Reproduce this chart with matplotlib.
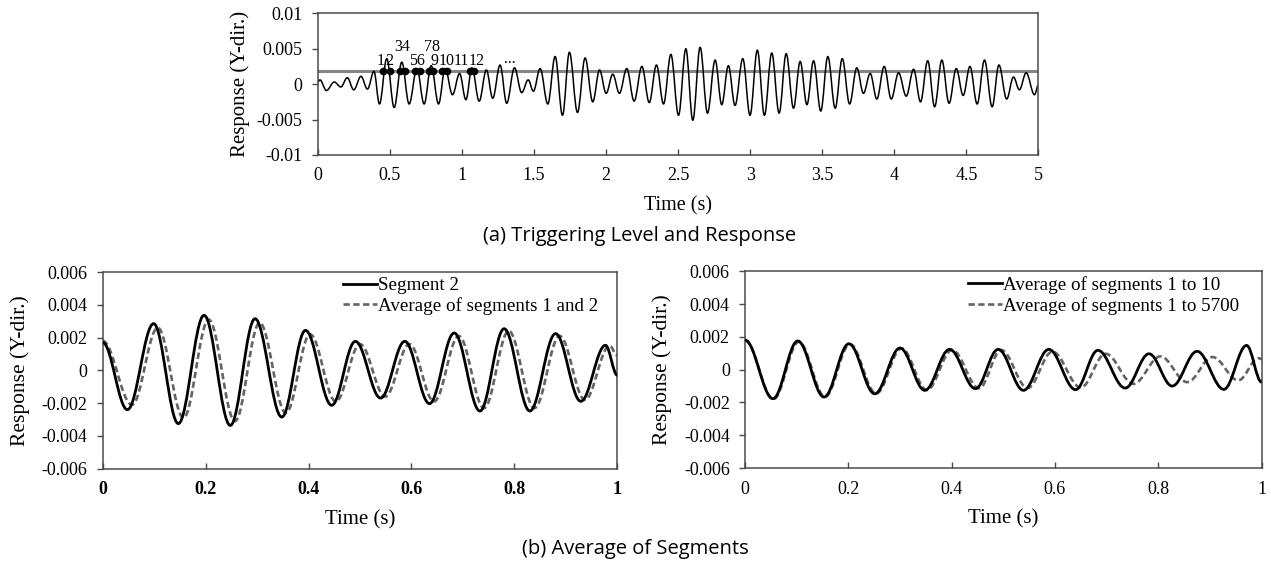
import matplotlib
matplotlib.use('Agg')
import matplotlib.pyplot as plt
from matplotlib.path import Path
from matplotlib.patches import PathPatch
from matplotlib.lines import Line2D

# ---- data (peaks / troughs of each trace) ----
# (a) full response record
resp_t = [0.0, 0.015, 0.06, 0.115, 0.16, 0.205, 0.25, 0.30, 0.345, 0.39,
          0.428, 0.479, 0.530, 0.583, 0.634, 0.688, 0.738, 0.787, 0.838, 0.884,
          0.935, 0.984, 1.028, 1.07, 1.12, 1.17, 1.214, 1.265, 1.311, 1.365,
          1.415, 1.46, 1.496, 1.543, 1.596, 1.647, 1.698, 1.746, 1.802, 1.855,
          1.908, 1.955, 2.001, 2.047, 2.093, 2.144, 2.195, 2.249, 2.30, 2.35,
          2.399, 2.45, 2.503, 2.554, 2.602, 2.653, 2.704, 2.757, 2.803, 2.849,
          2.895, 2.949, 2.999, 3.05, 3.099, 3.15, 3.201, 3.25, 3.301, 3.347,
          3.394, 3.44, 3.49, 3.539, 3.59, 3.639, 3.69, 3.74, 3.786, 3.833,
          3.879, 3.93, 3.979, 4.03, 4.083, 4.134, 4.182, 4.232, 4.28, 4.33,
          4.38, 4.43, 4.478, 4.525, 4.575, 4.626, 4.679, 4.726, 4.78, 4.827,
          4.868, 4.915, 4.973, 5.0]
resp_v = [0.0003, 0.0006, -0.0009, 0.0003, -0.0004, 0.0009, -0.0008, 0.0011, -0.0007, 0.0018,
          -0.0028, 0.0036, -0.0033, 0.0031, -0.0028, 0.0022, -0.0028, 0.0026, -0.0028, 0.0022,
          -0.0015, 0.0015, -0.0022, 0.0023, -0.0024, 0.0020, -0.0020, 0.0027, -0.0027, 0.0023,
          -0.0012, 0.0006, -0.0010, 0.0022, -0.0028, 0.0039, -0.0044, 0.0045, -0.0040, 0.0037,
          -0.0025, 0.0020, -0.0013, 0.0014, -0.0013, 0.0022, -0.0024, 0.0025, -0.0026, 0.0027,
          -0.0028, 0.0042, -0.0044, 0.0050, -0.0051, 0.0052, -0.0041, 0.0034, -0.0029, 0.0026,
          -0.0030, 0.0036, -0.0044, 0.0048, -0.0044, 0.0044, -0.0041, 0.0043, -0.0034, 0.0032,
          -0.0029, 0.0033, -0.0038, 0.0039, -0.0034, 0.0036, -0.0028, 0.0023, -0.0013, 0.0015,
          -0.0021, 0.0025, -0.0021, 0.0016, -0.0017, 0.0021, -0.0025, 0.0033, -0.0032, 0.0034,
          -0.0027, 0.0022, -0.0016, 0.0025, -0.0028, 0.0034, -0.0032, 0.0027, -0.0021, 0.0010,
          -0.0008, 0.0016, -0.0015, -0.0001]
trigger_level = 0.0018
cross_t = [0.456, 0.502, 0.572, 0.606, 0.676, 0.706, 0.769, 0.803, 0.861, 0.900, 1.054, 1.086]
ann_text = ['1', '2', '34', '56', '78', '9', '10', '11', '12', '...']
ann_t = [0.433, 0.497, 0.583, 0.688, 0.796, 0.812, 0.891, 0.998, 1.103, 1.33]
ann_v = [0.0033, 0.0033, 0.0053, 0.0033, 0.0053, 0.0033, 0.0033, 0.0033, 0.0033, 0.0036]
top_xticks = [0, 0.5, 1, 1.5, 2, 2.5, 3, 3.5, 4, 4.5, 5]
top_xlabels = ['0', '0.5', '1', '1.5', '2', '2.5', '3', '3.5', '4', '4.5', '5']
top_yticks = [-0.01, -0.005, 0, 0.005, 0.01]
top_ylabels = ['-0.01', '-0.005', '0', '0.005', '0.01']

# (b) left: segment 2 vs average of segments 1 and 2
seg2_t = [0, 0.048, 0.099, 0.147, 0.197, 0.248, 0.296, 0.348, 0.394, 0.445, 0.491,
          0.540, 0.587, 0.635, 0.683, 0.733, 0.780, 0.830, 0.880, 0.929, 0.977, 1.0]
seg2_v = [0.0017, -0.0024, 0.00285, -0.00325, 0.00336, -0.00336, 0.00315, -0.00285, 0.00244,
          -0.00213, 0.00177, -0.00169, 0.00177, -0.00203, 0.00228, -0.00248, 0.00254,
          -0.00248, 0.00224, -0.00189, 0.00153, -0.0003]
avg12_t = [0, 0.057, 0.107, 0.157, 0.206, 0.257, 0.305, 0.356, 0.403, 0.453, 0.50,
           0.549, 0.596, 0.644, 0.692, 0.741, 0.789, 0.839, 0.888, 0.937, 0.985, 1.0]
avg12_v = [0.0018, -0.0021, 0.0026, -0.0029, 0.0031, -0.0031, 0.0029, -0.0026, 0.0022,
           -0.0019, 0.0016, -0.0016, 0.0016, -0.0019, 0.0021, -0.0023, 0.0024, -0.0023,
           0.0021, -0.0018, 0.0015, 0.0009]

# (b) right: average of 1..10 vs average of 1..5700
avg10_t = [0, 0.054, 0.102, 0.153, 0.201, 0.251, 0.300, 0.348, 0.396, 0.446, 0.490,
           0.539, 0.588, 0.640, 0.683, 0.736, 0.782, 0.827, 0.875, 0.927, 0.971, 1.0]
avg10_v = [0.0018, -0.00177, 0.00175, -0.00167, 0.00158, -0.00147, 0.00132, -0.00126,
           0.00124, -0.00116, 0.00124, -0.00126, 0.00124, -0.00122, 0.00118, -0.00112,
           0.00097, -0.0010, 0.00112, -0.0012, 0.00148, -0.00076]
avg5700_t = [0, 0.055, 0.104, 0.155, 0.203, 0.254, 0.303, 0.352, 0.401, 0.453, 0.496,
             0.547, 0.595, 0.650, 0.698, 0.752, 0.804, 0.856, 0.905, 0.955, 0.994, 1.0]
avg5700_v = [0.0018, -0.0018, 0.0017, -0.00165, 0.00155, -0.00145, 0.0013, -0.00124,
             0.0012, -0.00113, 0.0012, -0.00112, 0.0011, -0.00109, 0.00097, -0.00086,
             0.00081, -0.00076, 0.00077, -0.00065, 0.0007, 0.00065]

bot_xticks = [0, 0.2, 0.4, 0.6, 0.8, 1]
bot_xlabels = ['0', '0.2', '0.4', '0.6', '0.8', '1']
bot_yticks = [-0.006, -0.004, -0.002, 0, 0.002, 0.004, 0.006]
bot_ylabels = ['-0.006', '-0.004', '-0.002', '0', '0.002', '0.004', '0.006']

SERIF = 'Liberation Serif'
SANS = 'Open Sans'
AX_COLOR = '#4a4a4a'


def wave(ax, ts, vs, **kw):
    """Smooth trace through the read extrema (Bezier, flat tangents at extrema)."""
    k = 0.364
    verts = [(ts[0], vs[0])]
    codes = [Path.MOVETO]
    for i in range(len(ts) - 1):
        dt = ts[i + 1] - ts[i]
        verts += [(ts[i] + k * dt, vs[i]), (ts[i + 1] - k * dt, vs[i + 1]), (ts[i + 1], vs[i + 1])]
        codes += [Path.CURVE4] * 3
    ax.add_patch(PathPatch(Path(verts, codes), fill=False, transform=ax.transData,
                           capstyle='butt', joinstyle='round', **kw))


def style_axes(ax, xticks, xlabels, yticks, ylabels, xbold=False):
    for s in ax.spines.values():
        s.set_color(AX_COLOR)
        s.set_linewidth(1.1)
    ax.set_xticks(xticks)
    ax.set_xticklabels(xlabels, fontfamily=SERIF, fontsize=13,
                       fontweight='bold' if xbold else 'normal')
    ax.set_yticks(yticks)
    ax.set_yticklabels(ylabels, fontfamily=SERIF, fontsize=13)
    ax.tick_params(axis='x', direction='in', length=4, width=1, color=AX_COLOR, pad=9)
    ax.tick_params(axis='y', direction='out', length=4, width=1, color=AX_COLOR, pad=7)


fig = plt.figure(figsize=(12.71, 5.70), dpi=100)

# ---------------- (a) ----------------
ax = fig.add_axes([0.25, 0.7281, 0.567, 0.2486])
ax.set_xlim(0, 5)
ax.set_ylim(-0.01, 0.01)
ax.axhline(trigger_level, color='#858585', lw=2.2, zorder=1)
wave(ax, resp_t, resp_v, edgecolor='black', lw=1.1, zorder=2)
ax.plot(cross_t, [trigger_level] * len(cross_t), 'o', color='black', ms=4.5, zorder=3)
for s, t, v in zip(ann_text, ann_t, ann_v):
    ax.text(t, v, s, fontfamily=SERIF, fontsize=11.5, ha='center', va='center')
style_axes(ax, top_xticks, top_xlabels, top_yticks, top_ylabels)
ax.set_xlabel('Time (s)', fontfamily=SERIF, fontsize=14.5)
ax.set_ylabel('Response (Y-dir.)', fontfamily=SERIF, fontsize=15)
ax.xaxis.set_label_coords(0.5, -0.36)
ax.xaxis.label.set_va('center')
ax.yaxis.set_label_coords(-0.108, 0.5)
ax.yaxis.label.set_va('center')

# ---------------- (b) left ----------------
axl = fig.add_axes([0.0808, 0.1777, 0.4049, 0.3451])
axl.set_xlim(0, 1)
axl.set_ylim(-0.006, 0.006)
wave(axl, avg12_t, avg12_v, edgecolor='#646464', lw=1.9, linestyle=(0, (2.4, 1.3)), zorder=2)
wave(axl, seg2_t, seg2_v, edgecolor='black', lw=2.0, zorder=3)
style_axes(axl, bot_xticks, bot_xlabels, bot_yticks, bot_ylabels, xbold=True)
axl.set_xlabel('Time (s)', fontfamily=SERIF, fontsize=15)
axl.set_ylabel('Response (Y-dir.)', fontfamily=SERIF, fontsize=15.5)
axl.xaxis.set_label_coords(0.5, -0.26)
axl.xaxis.label.set_va('center')
axl.yaxis.set_label_coords(-0.161, 0.5)
axl.yaxis.label.set_va('center')
hl = [Line2D([], [], color='black', lw=2.0),
      Line2D([], [], color='#646464', lw=1.9, linestyle=(0, (2.4, 1.3)))]
axl.legend(hl, ['Segment 2', 'Average of segments 1 and 2'], loc='upper left',
           bbox_to_anchor=(0.467, 0.975), frameon=False, borderpad=0, borderaxespad=0,
           handlelength=1.8, handletextpad=0.05, labelspacing=0.15,
           prop={'family': SERIF, 'size': 13.7})

# ---------------- (b) right ----------------
axr = fig.add_axes([0.5862, 0.1789, 0.4064, 0.3451])
axr.set_xlim(0, 1)
axr.set_ylim(-0.006, 0.006)
wave(axr, avg5700_t, avg5700_v, edgecolor='#646464', lw=1.9, linestyle=(0, (2.4, 1.3)), zorder=2)
wave(axr, avg10_t, avg10_v, edgecolor='black', lw=2.0, zorder=3)
style_axes(axr, bot_xticks, bot_xlabels, bot_yticks, bot_ylabels)
axr.set_xlabel('Time (s)', fontfamily=SERIF, fontsize=15)
axr.set_ylabel('Response (Y-dir.)', fontfamily=SERIF, fontsize=15.5)
axr.xaxis.set_label_coords(0.5, -0.26)
axr.xaxis.label.set_va('center')
axr.yaxis.set_label_coords(-0.161, 0.5)
axr.yaxis.label.set_va('center')
axr.legend(hl, ['Average of segments 1 to 10', 'Average of segments 1 to 5700'],
           loc='upper left', bbox_to_anchor=(0.432, 0.975), frameon=False, borderpad=0,
           borderaxespad=0, handlelength=1.8, handletextpad=0.05, labelspacing=0.15,
           prop={'family': SERIF, 'size': 13.7})

# captions
fig.text(640 / 1271, 1 - 236 / 570, '(a) Triggering Level and Response',
         fontfamily=SANS, fontsize=14.5, ha='center', va='center')
fig.text(635 / 1271, 1 - 549 / 570, '(b) Average of Segments',
         fontfamily=SANS, fontsize=14.5, ha='center', va='center')

fig.savefig('out.png', dpi=100)
